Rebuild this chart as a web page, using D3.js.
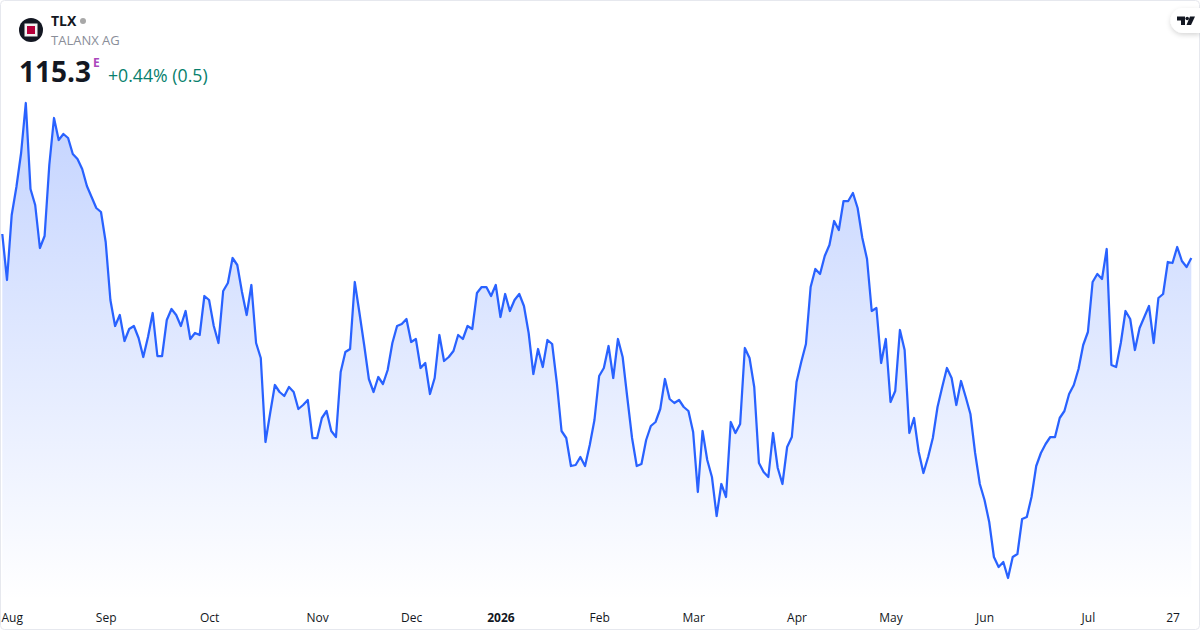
<!DOCTYPE html>
<html>
<head>
<meta charset="utf-8">
<script src="https://cdn.jsdelivr.net/npm/d3@7"></script>
<style>
  html, body { margin: 0; padding: 0; background: #fff; }
  #chart { display: block; }
  text { font-family: "Open Sans", sans-serif; }
</style>
</head>
<body>
<svg id="chart"></svg>
<script>
const prices = [
  117.7,113.1,119.6,122.4,125.8,130.8,122.2,120.6,116.3,117.5,124.6,129.3,127.1,127.7,127.3,125.7,
  125.2,124.2,122.5,121.4,120.3,119.9,116.9,111.1,108.5,109.6,107.0,108.2,108.5,107.3,105.4,107.4,
  109.8,105.5,105.5,109.1,110.2,109.6,108.5,110.0,107.2,107.8,107.6,111.5,111.1,108.5,106.8,112.0,
  112.8,115.3,114.6,111.9,109.6,112.6,106.8,105.3,96.9,99.8,102.6,101.9,101.5,102.4,101.9,100.2,
  100.6,101.1,97.3,97.3,99.3,100.0,98.0,97.4,103.9,105.9,106.2,112.9,109.8,106.6,103.2,101.9,
  103.4,102.7,104.1,106.8,108.5,108.7,109.2,106.9,107.2,104.3,104.8,101.7,103.3,107.6,105.0,105.4,
  106.0,107.6,107.2,108.5,108.2,111.8,112.4,112.4,111.5,112.6,109.4,111.7,110.0,111.1,111.7,110.5,
  107.8,103.7,106.2,104.4,107.1,106.7,102.8,98.0,97.3,94.5,94.6,95.4,94.5,96.6,99.1,103.5,
  104.3,106.5,103.3,107.2,105.4,101.3,97.3,94.5,94.7,97.1,98.5,98.9,100.2,103.2,101.2,100.8,
  101.1,100.4,100.0,97.9,91.9,98.0,95.1,93.4,89.5,92.7,91.4,98.9,97.8,98.7,106.3,105.3,
  102.4,94.8,93.9,93.4,97.8,94.3,92.7,96.4,97.4,102.9,104.9,106.7,112.4,114.2,113.7,115.5,
  116.6,119.0,118.1,121.0,121.0,121.8,120.3,117.3,115.2,110.0,110.3,104.8,107.2,100.9,102.0,108.1,
  106.1,97.8,99.3,95.9,93.8,95.4,97.3,100.4,102.4,104.3,103.3,100.6,103.0,101.4,99.7,95.8,
  92.7,91.1,88.9,85.4,84.4,84.9,83.3,85.4,85.7,89.2,89.4,91.4,94.5,95.8,96.7,97.4,
  97.4,99.3,100.0,101.7,102.6,104.2,106.6,107.9,112.9,113.7,113.2,116.2,104.6,104.4,106.8,110.0,
  109.2,106.1,108.3,109.4,110.5,106.8,111.3,111.7,114.9,114.8,116.4,115.0,114.4,115.3
];
const tickIndex = [2, 22, 44, 67, 87, 106, 127, 147, 169, 189, 209, 231, 249];
const tickLabels = ["Aug", "Sep", "Oct", "Nov", "Dec", "2026", "Feb", "Mar", "Apr", "May", "Jun", "Jul", "27"];

const width = 1200, height = 630;
const svg = d3.select("#chart").attr("width", width).attr("height", height);

// price axis: one euro is ten pixels
const x = d3.scaleLinear().domain([0, prices.length - 1]).range([2.3, 1191.3]);
const y = d3.scaleLinear().domain([141.1, 81.1]).range([0, 600]);

const defs = svg.append("defs");
const grad = defs.append("linearGradient")
  .attr("id", "areaFill")
  .attr("gradientUnits", "userSpaceOnUse")
  .attr("x1", 0).attr("x2", 0).attr("y1", 102).attr("y2", 600);
grad.append("stop").attr("offset", 0).attr("stop-color", "#2962ff").attr("stop-opacity", 0.28);
grad.append("stop").attr("offset", 1).attr("stop-color", "#2962ff").attr("stop-opacity", 0);

const shadow = defs.append("filter").attr("id", "pillShadow")
  .attr("x", "-50%").attr("y", "-50%").attr("width", "200%").attr("height", "200%");
shadow.append("feDropShadow").attr("dx", 0).attr("dy", 2).attr("stdDeviation", 2.5)
  .attr("flood-color", "#000").attr("flood-opacity", 0.16);

// card frame
svg.append("rect")
  .attr("x", 0.5).attr("y", 0.5).attr("width", width - 1).attr("height", height - 1)
  .attr("rx", 4).attr("fill", "#fff").attr("stroke", "#e6e8ee");

const area = d3.area()
  .x((d, i) => x(i))
  .y0(600)
  .y1(d => y(d));
svg.append("path").datum(prices).attr("d", area).attr("fill", "url(#areaFill)");

const line = d3.line()
  .x((d, i) => x(i))
  .y(d => y(d));
svg.append("path").datum(prices).attr("d", line)
  .attr("fill", "none").attr("stroke", "#2962ff").attr("stroke-width", 2.25)
  .attr("stroke-linejoin", "round");

// time axis
const axis = d3.axisBottom(x)
  .tickValues(tickIndex)
  .tickSize(0)
  .tickPadding(0)
  .tickFormat((d, i) => tickLabels[i]);
const axisG = svg.append("g").attr("transform", "translate(0,613)").call(axis);
axisG.select(".domain").remove();
axisG.selectAll("text")
  .attr("y", 0).attr("dy", "0.72em")
  .style("font-family", "'Open Sans', sans-serif")
  .style("font-size", "12px")
  .style("fill", "#131722")
  .style("font-weight", d => d === 106 ? 700 : 400);

// header
const logo = svg.append("g");
logo.append("circle").attr("cx", 31).attr("cy", 30).attr("r", 12).attr("fill", "#131722");
logo.append("rect").attr("x", 24.5).attr("y", 23.5).attr("width", 13).attr("height", 13).attr("fill", "#f2f2f2");
logo.append("rect").attr("x", 27).attr("y", 26).attr("width", 8).attr("height", 8).attr("fill", "#b5003b");

svg.append("text").attr("x", 51).attr("y", 26)
  .attr("font-size", 14).attr("font-weight", 700).attr("fill", "#131722").text("TLX");
svg.append("circle").attr("cx", 83).attr("cy", 21).attr("r", 3).attr("fill", "#a8a8a8");
svg.append("text").attr("x", 51).attr("y", 45)
  .attr("font-size", 13).attr("fill", "#8a8e99").text("TALANX AG");
svg.append("text").attr("x", 19).attr("y", 82)
  .attr("font-size", 28).attr("font-weight", 700).attr("fill", "#131722").text("115.3");
svg.append("text").attr("x", 93).attr("y", 66.5)
  .attr("font-size", 12).attr("font-weight", 700).attr("fill", "#ab47bc").text("E");
svg.append("text").attr("x", 108).attr("y", 81.5)
  .attr("font-size", 17.7).attr("fill", "#087f6d").text("+0.44% (0.5)");

// TradingView badge
svg.append("path")
  .attr("d", "M1200,8 H1183 A12.5,12.5 0 0 0 1183,33 H1200 Z")
  .attr("fill", "#fff").attr("filter", "url(#pillShadow)");
const badge = svg.append("g").attr("fill", "#131722");
badge.append("path").attr("d", "M1177,16.5 H1185 V25 H1181 V20.5 H1177 Z");
badge.append("circle").attr("cx", 1187.2).attr("cy", 18.5).attr("r", 1.8);
badge.append("path").attr("d", "M1190,16.5 H1195 L1191,25 H1186.5 Z");
</script>
</body>
</html>
